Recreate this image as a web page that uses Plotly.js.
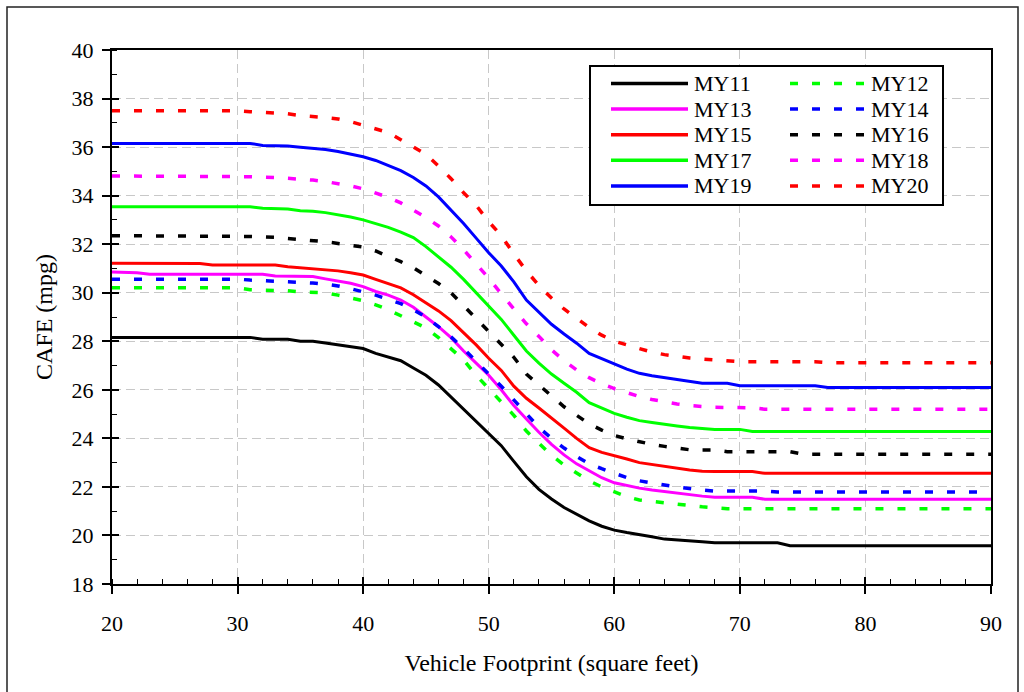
<!DOCTYPE html>
<html><head><meta charset="utf-8">
<script src="https://cdn.plot.ly/plotly-3.0.1.min.js"></script>
<style>html,body{margin:0;padding:0;background:#fff}#chart{width:1024px;height:692px}</style>
</head><body><div id="chart"></div>
<script>
// ---- data ----
const seriesNames = ["MY11","MY12","MY13","MY14","MY15","MY16","MY17","MY18","MY19","MY20"];

const xMY11 = [20,31,32,34,35,36,37,38,39,40,41,42,43,44,45,46,47,48,49,50,51,52,53,54,55,56,57,58,59,60,61,62,63,64,65,66,67,68,73,74,90];
const yMY11 = [28.16,28.16,28.08,28.08,28.0,28.0,27.93,27.85,27.77,27.7,27.5,27.35,27.2,26.9,26.6,26.2,25.7,25.2,24.7,24.2,23.7,23.05,22.42,21.9,21.5,21.15,20.87,20.6,20.38,20.22,20.12,20.05,19.95,19.85,19.82,19.76,19.74,19.7,19.7,19.58,19.58];

const xMY12 = [20,30,31,34,35,37,38,39,40,41,42,43,44,45,46,47,48,49,50,51,52,53,54,55,56,57,58,59,60,61,62,63,64,65,66,67,68,69,90];
const yMY12 = [30.2,30.2,30.12,30.08,30.03,30.0,29.9,29.8,29.67,29.5,29.3,29.05,28.8,28.55,28.15,27.7,27.23,26.6,26.05,25.5,24.95,24.3,23.8,23.3,22.9,22.56,22.25,22.0,21.8,21.6,21.46,21.4,21.33,21.27,21.22,21.18,21.14,21.1,21.1];

const xMY13 = [20,22,23,32,33,36,37,38,39,40,41,42,43,44,45,46,47,48,49,50,51,52,53,54,55,56,57,58,59,60,61,62,63,64,65,66,67,68,71,72,90];
const yMY13 = [30.85,30.82,30.76,30.76,30.69,30.67,30.57,30.48,30.39,30.25,30.05,29.9,29.7,29.4,29.0,28.6,28.15,27.6,27.1,26.6,26.0,25.35,24.8,24.25,23.75,23.32,22.95,22.65,22.38,22.17,22.05,21.95,21.87,21.8,21.73,21.68,21.62,21.57,21.57,21.49,21.49];

const xMY14 = [20,30,31,33,35,36,37,38,39,40,41,42,43,44,45,46,47,48,49,50,51,52,53,54,55,56,57,58,59,60,61,62,63,64,65,66,67,68,72,73,90];
const yMY14 = [30.56,30.56,30.52,30.48,30.44,30.4,30.35,30.28,30.17,30.05,29.9,29.73,29.55,29.3,29.0,28.6,28.18,27.7,27.15,26.65,26.15,25.6,25.0,24.45,24.0,23.6,23.25,22.95,22.75,22.55,22.38,22.25,22.15,22.08,22.0,21.93,21.87,21.83,21.83,21.79,21.79];

const xMY15 = [20,27,28,33,34,35,36,37,38,39,40,41,42,43,44,45,46,47,48,49,50,51,52,53,54,55,56,57,58,59,60,61,62,63,64,65,66,67,68,71,72,90];
const yMY15 = [31.21,31.2,31.14,31.14,31.07,31.03,30.99,30.96,30.9,30.82,30.73,30.55,30.38,30.2,29.92,29.6,29.25,28.85,28.35,27.85,27.3,26.8,26.15,25.65,25.25,24.85,24.42,24.0,23.62,23.42,23.3,23.15,23.0,22.92,22.85,22.77,22.7,22.65,22.63,22.63,22.56,22.56];

const xMY16 = [20,30,31,33,34,35,36,37,38,39,40,41,42,43,44,45,46,47,48,49,50,51,52,53,54,55,56,57,58,59,60,61,62,63,64,65,66,67,68,69,74,75,90];
const yMY16 = [32.35,32.35,32.32,32.28,32.24,32.2,32.16,32.1,32.03,31.96,31.88,31.72,31.51,31.28,31.03,30.72,30.38,30.0,29.47,28.95,28.42,27.9,27.34,26.65,26.2,25.75,25.3,24.95,24.6,24.34,24.12,23.98,23.85,23.75,23.67,23.6,23.53,23.52,23.52,23.45,23.45,23.35,23.35];

const xMY17 = [20,31,32,34,35,36,37,38,39,40,41,42,43,44,45,46,47,48,49,50,51,52,53,54,55,56,57,58,59,60,61,62,63,64,65,66,67,68,70,71,90];
const yMY17 = [33.54,33.54,33.48,33.45,33.38,33.36,33.3,33.22,33.12,33.0,32.85,32.69,32.5,32.27,31.9,31.47,31.05,30.55,30.0,29.45,28.9,28.25,27.6,27.1,26.65,26.27,25.9,25.47,25.25,25.03,24.87,24.73,24.65,24.57,24.51,24.45,24.4,24.37,24.37,24.28,24.28];

const xMY18 = [20,30,31,33,34,35,36,37,38,39,40,41,42,43,44,45,46,47,48,49,50,51,52,53,54,55,56,57,58,59,60,61,62,63,64,65,66,67,68,71,72,90];
const yMY18 = [34.81,34.81,34.78,34.75,34.72,34.68,34.64,34.58,34.5,34.4,34.28,34.1,33.93,33.7,33.42,33.1,32.75,32.3,31.77,31.2,30.6,29.95,29.35,28.72,28.2,27.65,27.2,26.82,26.5,26.25,26.05,25.88,25.72,25.6,25.5,25.42,25.35,25.31,25.28,25.26,25.2,25.2];

const xMY19 = [20,31,32,34,35,36,37,38,39,40,41,42,43,44,45,46,47,48,49,50,51,52,53,54,55,56,57,58,59,60,61,62,63,64,65,66,67,69,70,76,77,90];
const yMY19 = [36.15,36.15,36.07,36.04,35.99,35.96,35.9,35.82,35.72,35.6,35.45,35.25,35.03,34.75,34.4,33.95,33.4,32.85,32.25,31.65,31.1,30.45,29.7,29.2,28.7,28.3,27.92,27.5,27.3,27.07,26.85,26.68,26.58,26.5,26.41,26.33,26.27,26.27,26.17,26.17,26.1,26.1];

const xMY20 = [20,30,31,33,34,35,36,37,38,39,40,41,42,43,44,45,46,47,48,49,50,51,52,53,54,55,56,57,58,59,60,61,62,63,64,65,66,67,68,69,70,76,77,90];
const yMY20 = [37.5,37.5,37.46,37.42,37.37,37.3,37.27,37.22,37.16,37.05,36.9,36.75,36.6,36.3,35.98,35.7,35.22,34.7,34.12,33.6,32.93,32.35,31.6,30.9,30.3,29.78,29.33,28.95,28.57,28.25,28.0,27.85,27.7,27.55,27.45,27.37,27.31,27.27,27.23,27.18,27.16,27.16,27.12,27.12];

const xValues = [xMY11,xMY12,xMY13,xMY14,xMY15,xMY16,xMY17,xMY18,xMY19,xMY20];
const yValues = [yMY11,yMY12,yMY13,yMY14,yMY15,yMY16,yMY17,yMY18,yMY19,yMY20];

// ---- styles ----
const seriesColors = ["#000000","#00FF00","#FF00FF","#0000FF","#FF0000","#000000","#00FF00","#FF00FF","#0000FF","#FF0000"];
const seriesDashed = [false,true,false,true,false,true,false,true,false,true];
const DASH = "8px,14px";
const FONT = "Liberation Serif, Times New Roman, serif";

const traces = seriesNames.map((name, i) => ({
  type: "scatter", mode: "lines", name: name,
  x: xValues[i], y: yValues[i],
  line: {color: seriesColors[i], width: seriesDashed[i] ? 3.5 : 3, dash: seriesDashed[i] ? DASH : "solid"},
  showlegend: false, hoverinfo: "x+y+name"
}));
// empty trace only to host the overlay axes that draw the inner half of the crossing ticks
traces.push({type: "scatter", mode: "lines", x: [], y: [], xaxis: "x2", yaxis: "y2", showlegend: false, hoverinfo: "skip"});

// plot area in pixels: x 112..991, y 50..584
const PL = 112, PR = 991, PT = 50, PB = 584;
const px2x = p => (p - PL) / (PR - PL);
const px2y = p => (PB - p) / (PB - PT);

const shapes = [];
const annotations = [];
// outer frame
shapes.push({type: "rect", xref: "paper", yref: "paper", x0: px2x(7), x1: px2x(1018), y0: px2y(7), y1: px2y(705),
  line: {color: "#222", width: 1.5}, fillcolor: "rgba(0,0,0,0)", layer: "above"});
// legend box
shapes.push({type: "rect", xref: "paper", yref: "paper", x0: px2x(590), x1: px2x(943), y0: px2y(66), y1: px2y(205),
  line: {color: "#000", width: 2}, fillcolor: "#fff", layer: "above"});
seriesNames.forEach((name, i) => {
  const col = i % 2, row = Math.floor(i / 2);
  const yc = 83.5 + row * 25.6;
  const lx0 = col === 0 ? 611 : 790, lx1 = col === 0 ? 688 : 864;
  const tx = col === 0 ? 692 : 869;
  shapes.push({type: "line", xref: "paper", yref: "paper", x0: px2x(lx0), x1: px2x(lx1), y0: px2y(yc), y1: px2y(yc),
    line: {color: seriesColors[i], width: 3.5, dash: seriesDashed[i] ? DASH : "solid"}, layer: "above"});
  annotations.push({xref: "paper", yref: "paper", x: px2x(tx), y: px2y(yc), xanchor: "left", yanchor: "middle",
    text: name, showarrow: false, font: {family: FONT, size: 22, color: "#000"}});
});

const gridColor = "#c8c8c8";
const layout = {
  width: 1024, height: 692,
  margin: {l: PL, r: 1024 - PR, t: PT, b: 692 - PB},
  paper_bgcolor: "#fff", plot_bgcolor: "#fff",
  font: {family: FONT, size: 22, color: "#000"},
  showlegend: false,
  xaxis: {
    range: [20, 90], tick0: 20, dtick: 10, ticks: "outside", ticklen: 8, tickwidth: 1.5, tickcolor: "#000",
    showline: true, linecolor: "#000", linewidth: 2, mirror: true,
    showgrid: true, gridcolor: gridColor, gridwidth: 1, griddash: "9px,5px", zeroline: false,
    minor: {dtick: 2, ticks: "inside", ticklen: 5, tickwidth: 1.2, tickcolor: "#000", showgrid: false},
    tickfont: {family: FONT, size: 22, color: "#000"}, ticklabelstandoff: 11,
    title: {text: "Vehicle Footprint (square feet)", font: {family: FONT, size: 24, color: "#000"}, standoff: 19}
  },
  yaxis: {
    range: [18, 40], tick0: 18, dtick: 2, ticks: "outside", ticklen: 8, tickwidth: 1.5, tickcolor: "#000",
    showline: true, linecolor: "#000", linewidth: 2, mirror: true,
    showgrid: true, gridcolor: gridColor, gridwidth: 1, griddash: "9px,5px", zeroline: false,
    minor: {dtick: 1, ticks: "inside", ticklen: 5, tickwidth: 1.2, tickcolor: "#000", showgrid: false},
    tickfont: {family: FONT, size: 22, color: "#000"}, ticklabelstandoff: 4,
    title: {text: "CAFE (mpg)", font: {family: FONT, size: 24, color: "#000"}, standoff: 12}
  },
  xaxis2: {overlaying: "x", anchor: "y2", side: "bottom", range: [20, 90], tick0: 20, dtick: 10,
    ticks: "inside", ticklen: 7, tickwidth: 1.5, tickcolor: "#000", showticklabels: false,
    showgrid: false, showline: false, zeroline: false},
  yaxis2: {overlaying: "y", anchor: "x2", side: "left", range: [18, 40], tick0: 18, dtick: 2,
    ticks: "inside", ticklen: 7, tickwidth: 1.5, tickcolor: "#000", showticklabels: false,
    showgrid: false, showline: false, zeroline: false},
  shapes: shapes,
  annotations: annotations
};

Plotly.newPlot("chart", traces, layout, {displayModeBar: false});
</script></body></html>
